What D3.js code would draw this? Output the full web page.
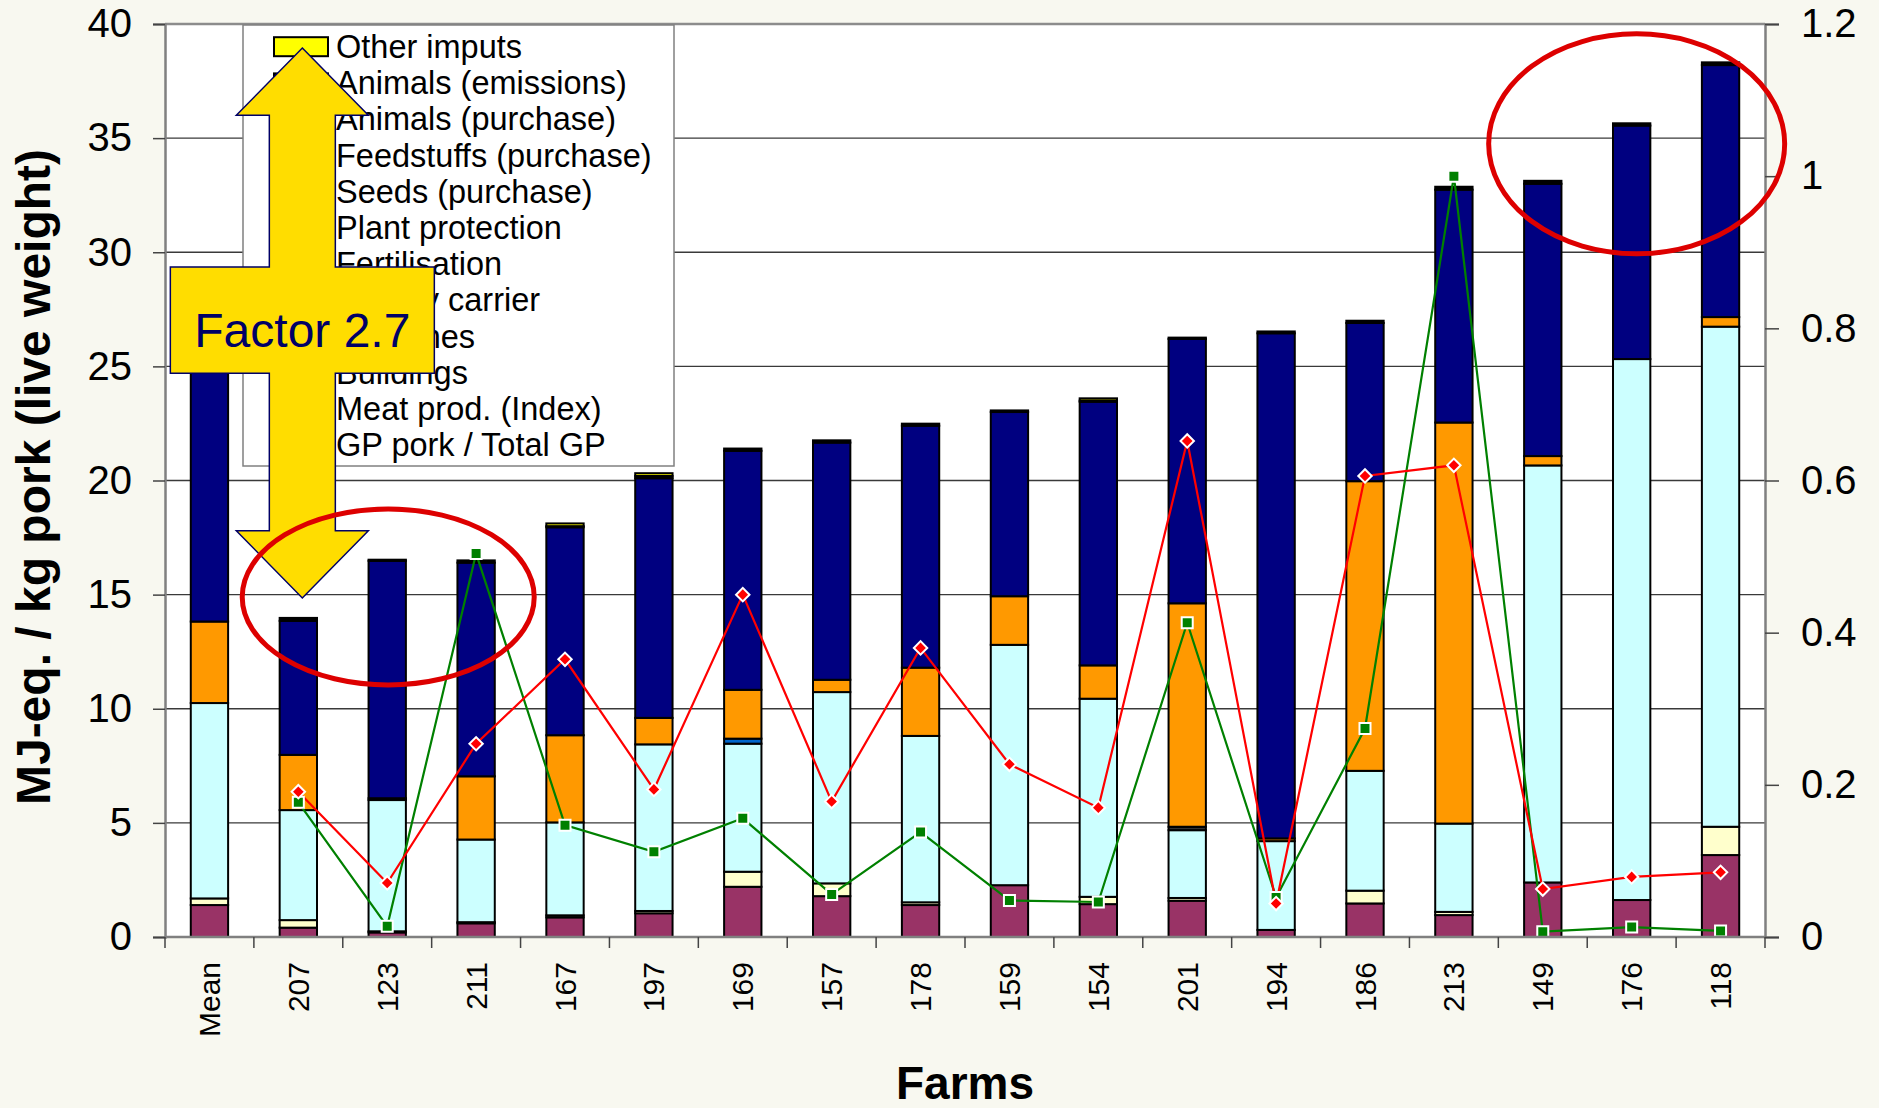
<!DOCTYPE html>
<html lang="en">
<head>
    <meta charset="UTF-8">
    <title>Energy demand per kg pork</title>
    <script src="https://cdnjs.cloudflare.com/ajax/libs/d3/7.8.5/d3.min.js"></script>
    <style>
        body { margin: 0; background: #F8F8F0; }
        svg { display: block; font-family: "Liberation Sans", Arial, sans-serif; }
    </style>
</head>
<body>
<svg id="chart" width="1879" height="1108"></svg>
<script>
    // categories
    var farms = ["Mean", "207", "123", "211", "167", "197", "169", "157", "178", "159", "154", "201", "194", "186", "213", "149", "176", "118"];

    // stacked series, bottom to top (MJ-eq. / kg pork)
    var buildings = [1.40, 0.41, 0.20, 0.60, 0.86, 1.04, 2.20, 1.79, 1.40, 2.27, 1.44, 1.59, 0.31, 1.47, 0.96, 2.39, 1.62, 3.59];
    var machines = [0.29, 0.33, 0.05, 0.05, 0.09, 0.10, 0.66, 0.56, 0.12, 0, 0.32, 0.12, 0, 0.56, 0.14, 0, 0, 1.24];
    var energyCarrier = [8.56, 4.82, 5.75, 3.62, 4.07, 7.30, 5.61, 8.38, 7.29, 10.53, 8.68, 2.97, 3.89, 5.25, 3.87, 18.27, 23.70, 21.91];
    var fertilisation = [0, 0, 0, 0, 0, 0, 0.22, 0, 0, 0, 0, 0, 0, 0, 0, 0, 0, 0];
    var plantProtection = [0, 0, 0, 0, 0, 0, 0, 0, 0, 0, 0, 0, 0, 0, 0, 0, 0, 0];
    var seeds = [0, 0, 0.08, 0, 0, 0, 0, 0, 0, 0, 0, 0.15, 0, 0, 0, 0, 0, 0];
    var feedstuffs = [3.57, 2.42, 0, 2.77, 3.82, 1.16, 2.14, 0.54, 2.99, 2.13, 1.46, 9.79, 0.12, 12.69, 17.57, 0.41, 0, 0.42];
    var animalsPurchase = [10.95, 5.87, 10.40, 9.36, 9.11, 10.50, 10.47, 10.39, 10.60, 8.07, 11.55, 11.58, 22.13, 6.93, 10.20, 11.93, 10.23, 11.04];
    var animalsEmissions = [0.12, 0.13, 0.05, 0.10, 0.05, 0.10, 0.10, 0.10, 0.09, 0.07, 0.05, 0.06, 0.08, 0.10, 0.13, 0.13, 0.10, 0.12];
    var otherInputs = [0.03, 0, 0, 0, 0.12, 0.12, 0, 0, 0, 0, 0.10, 0, 0, 0, 0, 0, 0, 0];

    // line series (right axis), no value for Mean
    var meatProdIndex = [null, 0.177, 0.014, 0.504, 0.147, 0.112, 0.156, 0.056, 0.138, 0.048, 0.046, 0.413, 0.052, 0.274, 1.0, 0.007, 0.013, 0.008];
    var gpPorkShare = [null, 0.191, 0.071, 0.254, 0.365, 0.194, 0.450, 0.178, 0.380, 0.227, 0.170, 0.652, 0.044, 0.606, 0.620, 0.063, 0.079, 0.085];

    // tick labels
    var leftTicks = [0, 5, 10, 15, 20, 25, 30, 35, 40];
    var rightTicks = [0, 0.2, 0.4, 0.6, 0.8, 1, 1.2];

    var stackKeys = ["Buildings", "Machines", "Energy carrier", "Fertilisation", "Plant protection",
        "Seeds (purchase)", "Feedstuffs (purchase)", "Animals (purchase)", "Animals (emissions)", "Other imputs"];
    var stackArrays = [buildings, machines, energyCarrier, fertilisation, plantProtection,
        seeds, feedstuffs, animalsPurchase, animalsEmissions, otherInputs];
    var stackColors = ["#993366", "#FFFFCC", "#CCFFFF", "#0066CC", "#339966",
        "#333333", "#FF9900", "#000080", "#000000", "#FFFF00"];

    var W = 1879, H = 1108;
    var plotL = 165, plotR = 1765, plotT = 24, plotB = 937;

    var svg = d3.select("#chart");

    var x = d3.scaleBand().domain(farms).range([plotL, plotR]).paddingInner(0.58).paddingOuter(0.29);
    var step = x.step();
    var y = d3.scaleLinear().domain([0, 40]).range([plotB, plotT]);
    var y2 = d3.scaleLinear().domain([0, 1.2]).range([plotB, plotT]);

    // table for d3.stack
    var table = farms.map(function (f, i) {
        var row = {farm: f};
        stackKeys.forEach(function (k, j) {
            row[k] = stackArrays[j][i];
        });
        return row;
    });
    var series = d3.stack().keys(stackKeys)(table);

    // background + plot area
    svg.append("rect").attr("width", W).attr("height", H).attr("fill", "#F8F8F0");
    svg.append("rect").attr("x", plotL).attr("y", plotT).attr("width", plotR - plotL).attr("height", plotB - plotT)
        .attr("fill", "#ffffff");

    // gridlines
    svg.append("g").selectAll("line").data(leftTicks.filter(function (d) { return d > 0 && d < 40; }))
        .join("line")
        .attr("x1", plotL).attr("x2", plotR)
        .attr("y1", function (d) { return y(d); }).attr("y2", function (d) { return y(d); })
        .attr("stroke", "#3a3a3a").attr("stroke-width", 1.4);
    svg.append("line").attr("x1", plotL).attr("x2", plotR).attr("y1", plotT).attr("y2", plotT)
        .attr("stroke", "#8c8c8c").attr("stroke-width", 2.5);

    // bars
    var gBars = svg.append("g");
    series.forEach(function (s, j) {
        gBars.append("g").selectAll("rect").data(s.filter(function (d) { return d[1] - d[0] > 0; }))
            .join("rect")
            .attr("x", function (d) { return x(d.data.farm); })
            .attr("width", x.bandwidth())
            .attr("y", function (d) { return y(d[1]); })
            .attr("height", function (d) { return y(d[0]) - y(d[1]); })
            .attr("fill", stackColors[j])
            .attr("stroke", "#000")
            .attr("stroke-width", 2);
    });

    // lines
    function cx(i) { return x(farms[i]) + x.bandwidth() / 2; }
    var lineGen = d3.line()
        .defined(function (d) { return d != null; })
        .x(function (d, i) { return cx(i); })
        .y(function (d) { return y2(d); });

    svg.append("path").datum(meatProdIndex).attr("d", lineGen)
        .attr("fill", "none").attr("stroke", "#008000").attr("stroke-width", 2.2);
    svg.append("path").datum(gpPorkShare).attr("d", lineGen)
        .attr("fill", "none").attr("stroke", "#FF0000").attr("stroke-width", 2.2);

    var squareSym = d3.symbol().type(d3.symbolSquare).size(121);
    var diamondSym = d3.symbol().type(d3.symbolSquare).size(90);

    svg.append("g").selectAll("path").data(meatProdIndex.map(function (v, i) { return {v: v, i: i}; })
        .filter(function (d) { return d.v != null; }))
        .join("path")
        .attr("d", squareSym)
        .attr("transform", function (d) { return "translate(" + cx(d.i) + "," + y2(d.v) + ")"; })
        .attr("fill", "#008000").attr("stroke", "#ffffff").attr("stroke-width", 2);
    svg.append("g").selectAll("path").data(gpPorkShare.map(function (v, i) { return {v: v, i: i}; })
        .filter(function (d) { return d.v != null; }))
        .join("path")
        .attr("d", diamondSym)
        .attr("transform", function (d) { return "translate(" + cx(d.i) + "," + y2(d.v) + ") rotate(45)"; })
        .attr("fill", "#FF0000").attr("stroke", "#ffffff").attr("stroke-width", 2);

    // axes
    var axL = svg.append("g").attr("transform", "translate(" + plotL + ",0)")
        .call(d3.axisLeft(y).tickValues(leftTicks).tickSize(12).tickPadding(21).tickFormat(d3.format("d")));
    var axR = svg.append("g").attr("transform", "translate(" + plotR + ",0)")
        .call(d3.axisRight(y2).tickValues(rightTicks).tickSize(14).tickPadding(22)
            .tickFormat(function (d) { return String(+d.toFixed(1)); }));
    [axL, axR].forEach(function (ax) {
        ax.select(".domain").attr("stroke", "#808080").attr("stroke-width", 2.5);
        ax.selectAll(".tick line").attr("stroke", "#444").attr("stroke-width", 1.5);
        ax.selectAll(".tick text").attr("font-size", 40).attr("fill", "#000")
            .attr("font-family", "Liberation Sans, Arial, sans-serif");
    });

    // x axis
    var gx = svg.append("g");
    gx.append("line").attr("x1", plotL).attr("x2", plotR).attr("y1", plotB).attr("y2", plotB)
        .attr("stroke", "#808080").attr("stroke-width", 2.5);
    gx.selectAll("line.tk").data(d3.range(farms.length + 1)).join("line").attr("class", "tk")
        .attr("x1", function (i) { return plotL + i * step; }).attr("x2", function (i) { return plotL + i * step; })
        .attr("y1", plotB).attr("y2", plotB + 11)
        .attr("stroke", "#444").attr("stroke-width", 1.5);
    gx.selectAll("text").data(farms).join("text")
        .attr("transform", function (d) { return "translate(" + (x(d) + x.bandwidth() / 2) + "," + (plotB + 25) + ") rotate(-90)"; })
        .attr("text-anchor", "end").attr("dy", "0.35em")
        .attr("font-size", 30).text(function (d) { return d; });

    // titles
    svg.append("text").attr("x", (plotL + plotR) / 2).attr("y", 1099)
        .attr("text-anchor", "middle").attr("font-size", 46).attr("font-weight", "bold")
        .text("Farms");
    svg.append("text").attr("transform", "translate(50," + ((144 + 810) / 2) + ") rotate(-90)")
        .attr("text-anchor", "middle").attr("font-size", 48).attr("font-weight", "bold")
        .text("MJ-eq. / kg pork (live weight)");

    // legend
    var legendItems = stackKeys.slice().reverse().map(function (k, i) {
        return {name: k, color: stackColors[stackKeys.length - 1 - i], type: "bar"};
    });
    legendItems.push({name: "Meat prod. (Index)", color: "#008000", type: "square"});
    legendItems.push({name: "GP pork / Total GP", color: "#FF0000", type: "diamond"});

    var lg = svg.append("g");
    lg.append("rect").attr("x", 243).attr("y", 25).attr("width", 431).attr("height", 441)
        .attr("fill", "#ffffff").attr("stroke", "#808080").attr("stroke-width", 1.5);
    var rows = lg.selectAll("g.row").data(legendItems).join("g").attr("class", "row")
        .attr("transform", function (d, i) { return "translate(0," + (46.7 + i * 36.2) + ")"; });
    rows.filter(function (d) { return d.type === "bar"; }).append("rect")
        .attr("x", 274).attr("y", -9.5).attr("width", 54).attr("height", 19)
        .attr("fill", function (d) { return d.color; }).attr("stroke", "#000").attr("stroke-width", 2);
    rows.filter(function (d) { return d.type !== "bar"; }).append("line")
        .attr("x1", 274).attr("x2", 328).attr("stroke", function (d) { return d.color; }).attr("stroke-width", 2.2);
    rows.filter(function (d) { return d.type !== "bar"; }).append("path")
        .attr("d", function (d) { return d.type === "square" ? squareSym() : diamondSym(); })
        .attr("transform", function (d) { return "translate(301,0)" + (d.type === "diamond" ? " rotate(45)" : ""); })
        .attr("fill", function (d) { return d.color; }).attr("stroke", "#fff").attr("stroke-width", 2);
    rows.append("text").attr("x", 336).attr("dy", "0.35em").attr("font-size", 32.5)
        .text(function (d) { return d.name; });

    // annotation: double arrow "Factor 2.7"
    var ax0 = x("207") + x.bandwidth() / 2 + 4;
    var tipTop = y(38.95), baseTop = y(36.0), barTop = y(29.35), barBot = y(24.7), baseBot = y(17.8), tipBot = y(14.85);
    var sh = 33, hd = 66, crL = 132, crR = 132;
    var arrowPts = [
        [ax0, tipTop], [ax0 + hd, baseTop], [ax0 + sh, baseTop], [ax0 + sh, barTop], [ax0 + crR, barTop],
        [ax0 + crR, barBot], [ax0 + sh, barBot], [ax0 + sh, baseBot], [ax0 + hd, baseBot], [ax0, tipBot],
        [ax0 - hd, baseBot], [ax0 - sh, baseBot], [ax0 - sh, barBot], [ax0 - crL, barBot], [ax0 - crL, barTop],
        [ax0 - sh, barTop], [ax0 - sh, baseTop], [ax0 - hd, baseTop]
    ];
    svg.append("polygon").attr("points", arrowPts.map(function (p) { return p.join(","); }).join(" "))
        .attr("fill", "#FFDD00").attr("stroke", "#000066").attr("stroke-width", 1.5);
    svg.append("text").attr("x", ax0).attr("y", 347).attr("text-anchor", "middle")
        .attr("font-size", 48).attr("fill", "#000066").text("Factor 2.7");

    // red ellipses
    svg.append("ellipse").attr("cx", x("123") + x.bandwidth() / 2 + 1).attr("cy", y(14.9))
        .attr("rx", 146).attr("ry", 88)
        .attr("fill", "none").attr("stroke", "#DD0000").attr("stroke-width", 5);
    svg.append("ellipse").attr("cx", x("176") + x.bandwidth() / 2 + 5).attr("cy", y(34.75))
        .attr("rx", 148).attr("ry", 110)
        .attr("fill", "none").attr("stroke", "#DD0000").attr("stroke-width", 5);
</script>
</body>
</html>
